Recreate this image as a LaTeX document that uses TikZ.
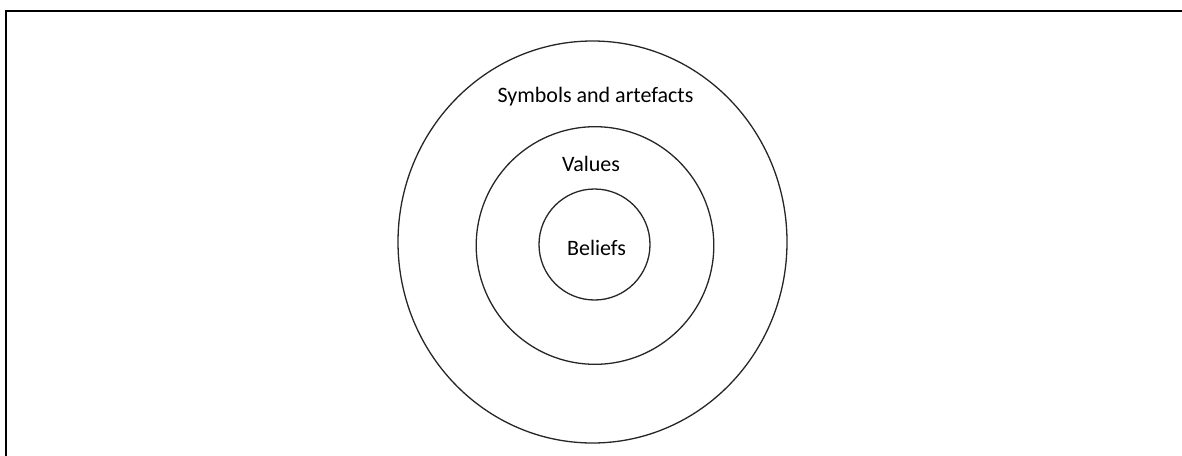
\documentclass[tikz,border=0pt]{standalone}
\usepackage{fontspec}
\setmainfont{Carlito}
\begin{document}
\begin{tikzpicture}[x=1pt,y=-1pt,
  ring/.style={draw=black!85,line width=1.3pt},
  lbl/.style={font=\fontsize{22}{26}\selectfont,inner sep=0pt}]
\useasboundingbox (0,0) rectangle (1182,455);
\coordinate (fr) at (6,460);
\coordinate (ft) at (6,11);
\coordinate (fe) at (1190,11);
\draw[line width=2.6pt] (fr) -- (ft) -- (fe);
\draw[ring] (592.5,242) ellipse [x radius=194.5, y radius=201];
\draw[ring] (595,245.5) circle [radius=118.8];
\draw[ring] (594.5,244.5) circle [radius=55.5];
\node[lbl] (sym) at (595.5,97) {Symbols and artefacts};
\node[lbl] (val) at (591,164) {Values};
\node[lbl] (bel) at (596.5,248) {Beliefs};
\end{tikzpicture}
\end{document}
